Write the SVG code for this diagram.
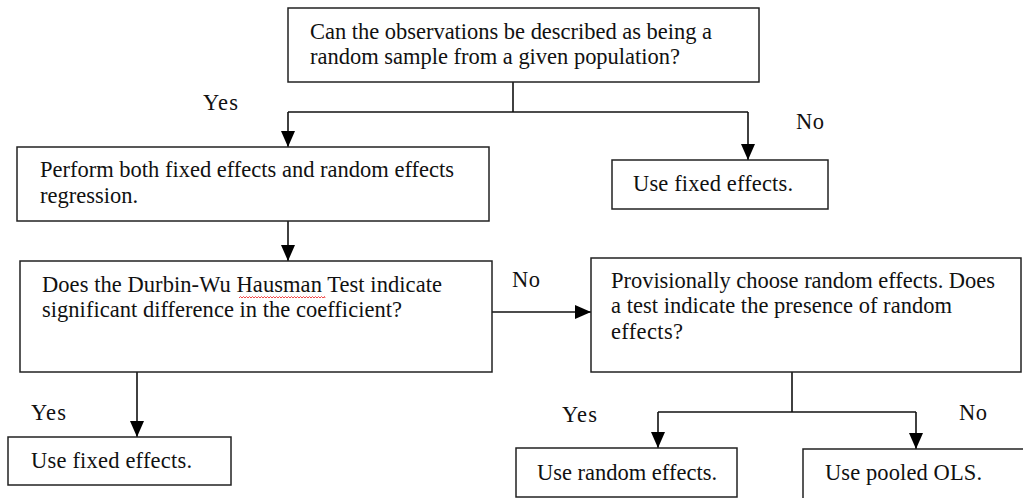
<svg xmlns="http://www.w3.org/2000/svg" width="1023" height="498" viewBox="0 0 1023 498">
<style>
.box{fill:#fff;stroke:#222;stroke-width:1.5}
.ln{fill:none;stroke:#111;stroke-width:1.6}
</style>
<defs>
<marker id="ah" viewBox="0 0 16 14" refX="16" refY="7" markerWidth="16" markerHeight="14" markerUnits="userSpaceOnUse" orient="auto">
<path d="M0,0 L16,7 L0,14 Z" fill="#000"/>
</marker>
</defs>
<rect width="1023" height="498" fill="#fff"/>
<g font-family="Liberation Serif" font-size="22.5" fill="#111">
<g id="connectors">
<path class="ln" d="M513,82 V112"/>
<path class="ln" d="M288,112 H748"/>
<path class="ln" d="M288,112 V147" marker-end="url(#ah)"/>
<path class="ln" d="M748,112 V160" marker-end="url(#ah)"/>
<path class="ln" d="M288,221 V261" marker-end="url(#ah)"/>
<path class="ln" d="M492,312 H591" marker-end="url(#ah)"/>
<path class="ln" d="M137,372 V437" marker-end="url(#ah)"/>
<path class="ln" d="M792,372 V412"/>
<path class="ln" d="M658,412 H916"/>
<path class="ln" d="M658,412 V448" marker-end="url(#ah)"/>
<path class="ln" d="M916,412 V449" marker-end="url(#ah)"/>
<text x="203" y="110" textLength="35" lengthAdjust="spacing">Yes</text>
<text x="796" y="129" textLength="28" lengthAdjust="spacing">No</text>
<text x="512" y="287" textLength="28" lengthAdjust="spacing">No</text>
<text x="31" y="420" textLength="35" lengthAdjust="spacing">Yes</text>
<text x="562" y="422" textLength="35" lengthAdjust="spacing">Yes</text>
<text x="959" y="420" textLength="28" lengthAdjust="spacing">No</text>
</g>
<g id="q1">
<rect class="box" x="288" y="8" width="471" height="74"/>
<text x="310" y="39" textLength="402" lengthAdjust="spacing">Can the observations be described as being a</text>
<text x="310" y="64" textLength="370" lengthAdjust="spacing">random sample from a given population?</text>
</g>
<g id="perform">
<rect class="box" x="17" y="147" width="472" height="74"/>
<text x="40" y="177" textLength="414" lengthAdjust="spacing">Perform both fixed effects and random effects</text>
<text x="40" y="203" textLength="98" lengthAdjust="spacing">regression.</text>
</g>
<g id="fixed1">
<rect class="box" x="612" y="160" width="216" height="49"/>
<text x="633" y="191" textLength="160" lengthAdjust="spacing">Use fixed effects.</text>
</g>
<g id="hausman">
<rect class="box" x="20" y="261" width="472" height="111"/>
<text x="42" y="292" textLength="400" lengthAdjust="spacing">Does the Durbin-Wu Hausman Test indicate</text>
<text x="42" y="317" textLength="360" lengthAdjust="spacing">significant difference in the coefficient?</text>
<polyline fill="none" stroke="#e33" stroke-width="0.9" points="239,298 240.5,296.5 242,298 243.5,296.5 245,298 246.5,296.5 248,298 249.5,296.5 251,298 252.5,296.5 254,298 255.5,296.5 257,298 258.5,296.5 260,298 261.5,296.5 263,298 264.5,296.5 266,298 267.5,296.5 269,298 270.5,296.5 272,298 273.5,296.5 275,298 276.5,296.5 278,298 279.5,296.5 281,298 282.5,296.5 284,298 285.5,296.5 287,298 288.5,296.5 290,298 291.5,296.5 293,298 294.5,296.5 296,298 297.5,296.5 299,298 300.5,296.5 302,298 303.5,296.5 305,298 306.5,296.5 308,298 309.5,296.5 311,298 312.5,296.5 314,298 315.5,296.5 317,298 318.5,296.5 320,298 321.5,296.5 323,298 324.5,296.5 325,298"/>
</g>
<g id="provisional">
<rect class="box" x="591" y="258" width="430" height="114"/>
<text x="611" y="288" textLength="384" lengthAdjust="spacing">Provisionally choose random effects. Does</text>
<text x="611" y="313" textLength="341" lengthAdjust="spacing">a test indicate the presence of random</text>
<text x="611" y="339" textLength="72" lengthAdjust="spacing">effects?</text>
</g>
<g id="fixed2">
<rect class="box" x="8" y="437" width="223" height="48"/>
<text x="31" y="468" textLength="161" lengthAdjust="spacing">Use fixed effects.</text>
</g>
<g id="random">
<rect class="box" x="516" y="448" width="221" height="49"/>
<text x="537" y="480" textLength="180" lengthAdjust="spacing">Use random effects.</text>
</g>
<g id="pooled">
<rect class="box" x="803" y="449" width="230" height="60"/>
<text x="825" y="480" textLength="157" lengthAdjust="spacing">Use pooled OLS.</text>
</g>
</g>
</svg>
